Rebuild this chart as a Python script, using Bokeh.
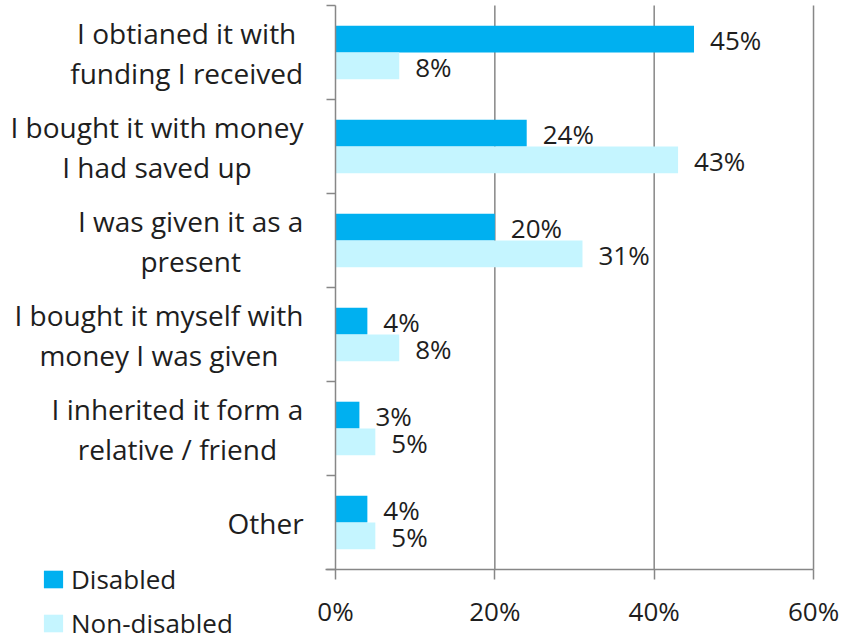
from bokeh.plotting import figure
from bokeh.models import Range1d, FixedTicker, PrintfTickFormatter, Legend, LegendItem, ColumnDataSource
from bokeh.core.properties import value
from bokeh.embed import file_html
from bokeh.resources import INLINE

categories = [
    ["I obtianed it with", "funding I received"],
    ["I bought it with money", "I had saved up"],
    ["I was given it as a", "present"],
    ["I bought it myself with", "money I was given"],
    ["I inherited it form a", "relative / friend"],
    ["Other"],
]
disabled = [45, 24, 20, 4, 3, 4]
non_disabled = [8, 43, 31, 8, 5, 5]
x_ticks = [0, 20, 40, 60]

FONT = "Open Sans"
DARK = "#00B0F0"
LIGHT = "#C5F5FF"
GRID = "#878787"
TXT = "#1e1e1e"

n = len(categories)
centers = [n - 0.5 - i for i in range(n)]
bh = 0.285
off = bh / 2

# layout constants (pixels)
W_FIG, H_FIG = 854, 641
PX_PER_X = 7.967      # px per percentage point
PX_PER_Y = 94.0       # px per category
X0_PX = 335           # where 0% sits
TOP_PX = 5            # where the top of the category axis sits
x_start = -X0_PX / PX_PER_X
x_end = x_start + W_FIG / PX_PER_X
y_end = n + TOP_PX / PX_PER_Y
y_start = y_end - H_FIG / PX_PER_Y

p = figure(width=W_FIG, height=H_FIG, output_backend="svg", toolbar_location=None,
           x_range=Range1d(x_start, x_end), y_range=Range1d(y_start, y_end),
           min_border_left=0, min_border_right=0, min_border_top=0, min_border_bottom=0)
p.outline_line_color = None
p.background_fill_color = "white"
p.border_fill_color = "white"
p.xgrid.grid_line_color = None
p.ygrid.grid_line_color = None

# vertical grid lines from the axis up to the top of the category area
gx = x_ticks[1:]
p.segment(x0=gx, x1=gx, y0=[0] * len(gx), y1=[n] * len(gx), line_color=GRID, line_width=1.5)

src_d = ColumnDataSource(dict(y=[c + off for c in centers], v=disabled,
                              t=[f"{v}%" for v in disabled]))
src_n = ColumnDataSource(dict(y=[c - off for c in centers], v=non_disabled,
                              t=[f"{v}%" for v in non_disabled]))

rd = p.hbar(y="y", right="v", left=0, height=bh, source=src_d, fill_color=DARK, line_color=None)
rn = p.hbar(y="y", right="v", left=0, height=bh, source=src_n, fill_color=LIGHT, line_color=None)

for s in (src_d, src_n):
    p.text(x="v", y="y", text="t", source=s, x_offset=16, y_offset=1, text_baseline="middle",
           text_align="left", text_font=value(FONT), text_font_size="26px", text_color=TXT)

# category labels: block right-aligned, lines centred inside block
CAT_SIZE = 28
W = {" ": .26, "I": .28, "i": .26, "l": .26, "j": .26, "t": .35, "f": .34, "r": .41,
     "/": .37, "a": .556, "b": .613, "c": .48, "d": .613, "e": .561, "g": .547,
     "h": .613, "n": .613, "o": .601, "u": .613, "v": .5, "w": .774, "m": .927,
     "s": .473, "y": .5, "O": .778, "p": .613, "k": .53}

def text_w(s):
    return sum(W.get(ch, .57) for ch in s) * CAT_SIZE

RIGHT_PX = 303 - X0_PX  # right edge of label block, relative to x=0 (px)
LINE = 40 / PX_PER_Y
lx, ly, lt = [], [], []
for c, lines in zip(centers, categories):
    bw = max(text_w(s) for s in lines)
    cx = (RIGHT_PX - bw / 2) / PX_PER_X
    k = len(lines)
    for j, s in enumerate(lines):
        lx.append(cx)
        ly.append(c + (k - 1) / 2 * LINE - j * LINE)
        lt.append(s)
p.text(x=lx, y=ly, text=lt, text_align="center", text_baseline="middle",
       text_font=value(FONT), text_font_size=f"{CAT_SIZE}px", text_color=TXT)

# y axis at x=0 with boundary ticks
p.yaxis.fixed_location = 0
p.yaxis.bounds = (0, n)
p.yaxis.ticker = FixedTicker(ticks=[], minor_ticks=list(range(n + 1)))
p.yaxis.major_label_text_font_size = "0px"
p.yaxis.minor_tick_out = 9
p.yaxis.minor_tick_in = 0
p.yaxis.minor_tick_line_color = GRID
p.yaxis.minor_tick_line_width = 1.5
p.yaxis.axis_line_color = GRID
p.yaxis.axis_line_width = 1.5

# x axis at y=0
p.xaxis.fixed_location = 0
p.xaxis.bounds = (-1.3, 60)
p.xaxis.ticker = FixedTicker(ticks=x_ticks, minor_ticks=[])
p.xaxis.formatter = PrintfTickFormatter(format="%d%%")
p.xaxis.major_tick_out = 10
p.xaxis.major_tick_in = 0
p.xaxis.major_tick_line_color = GRID
p.xaxis.major_tick_line_width = 1.5
p.xaxis.axis_line_color = GRID
p.xaxis.axis_line_width = 1.5
p.xaxis.major_label_text_font = FONT
p.xaxis.major_label_text_font_size = "26px"
p.xaxis.major_label_text_color = TXT
p.xaxis.major_label_standoff = 13

legend = Legend(items=[LegendItem(label="Disabled", renderers=[rd]),
                       LegendItem(label="Non-disabled", renderers=[rn])],
                location=(41, 0), orientation="vertical",
                label_text_font=FONT, label_text_font_size="26px", label_text_color=TXT,
                glyph_width=24, glyph_height=22, label_standoff=6, spacing=8,
                padding=0, margin=0, border_line_color=None, background_fill_alpha=0)
p.add_layout(legend, "center")

open("out.html", "w").write(file_html(p, INLINE))
